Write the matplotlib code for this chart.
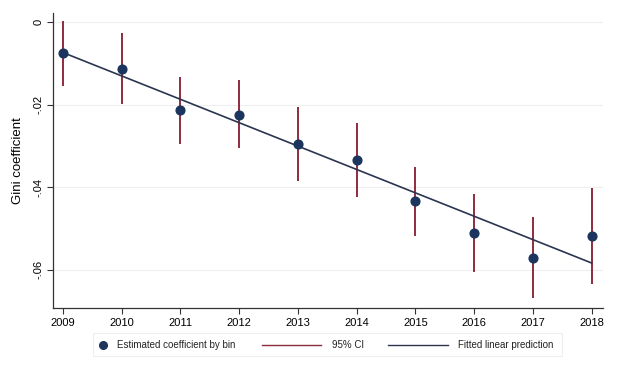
import numpy as np
import matplotlib
matplotlib.use("Agg")
import matplotlib.pyplot as plt
from matplotlib.lines import Line2D
from matplotlib.patches import Rectangle

plt.rcParams['font.family'] = ['Liberation Sans', 'DejaVu Sans']

years = [2009, 2010, 2011, 2012, 2013, 2014, 2015, 2016, 2017, 2018]
coef = [-0.0075, -0.0113, -0.0213, -0.0225, -0.0295, -0.0334, -0.0433, -0.0510, -0.0571, -0.0518]
ci_low = [-0.0155, -0.0199, -0.0296, -0.0305, -0.0385, -0.0423, -0.0518, -0.0605, -0.0667, -0.0634]
ci_high = [0.0002, -0.0026, -0.0133, -0.0140, -0.0205, -0.0244, -0.0350, -0.0416, -0.0472, -0.0402]

ci_col = '#8e2c3e'
dot_col = '#1c355e'
fit_col = '#2b3550'

W, H = 624, 370
fig = plt.figure(figsize=(W / 100, H / 100), dpi=100)
ax = fig.add_axes([0.085, 0.168, 0.881, 0.797])

x = np.array(years)
y = np.array(coef)
slope, icpt = np.polyfit(x, y, 1)

ax.vlines(x, ci_low, ci_high, color=ci_col, lw=1.4, zorder=2)
ax.plot(x, slope * x + icpt, color=fit_col, lw=1.2, zorder=3)
ax.plot(x, y, 'o', color=dot_col, ms=6.3, zorder=4)

ax.set_xlim(2008.83, 2018.19)
ax.set_ylim(-0.0692, 0.0022)
ax.set_xticks(years)
ax.set_yticks([0, -0.02, -0.04, -0.06])
ax.set_yticklabels(['0', '-.02', '-.04', '-.06'], rotation=90, va='center')
ax.tick_params(labelsize=8, length=4, width=0.8, color='#333333', pad=3)
ax.grid(axis='y', color='#eeeeee', lw=0.8)
ax.set_axisbelow(True)
for s in ['top', 'right']:
    ax.spines[s].set_visible(False)
for s in ['left', 'bottom']:
    ax.spines[s].set_color('#333333')
    ax.spines[s].set_linewidth(0.9)
ax.set_ylabel('Gini coefficient', fontsize=9.5, labelpad=7)

# legend, laid out by hand (pixel positions -> figure fractions)
def fx(px):
    return px / W

def fy(py):
    return 1 - py / H

fig.patches.append(Rectangle((fx(93), fy(356)), fx(562) - fx(93), fy(333) - fy(356),
                             transform=fig.transFigure, fill=False,
                             edgecolor='#eeeeee', lw=0.8))
ly = fy(345)
fig.lines.append(Line2D([fx(103)], [ly], marker='o', ls='', color=dot_col, ms=5.5,
                        transform=fig.transFigure))
fig.lines.append(Line2D([fx(262), fx(321)], [ly, ly], color=ci_col, lw=1,
                        transform=fig.transFigure))
fig.lines.append(Line2D([fx(388), fx(448)], [ly, ly], color=fit_col, lw=1,
                        transform=fig.transFigure))
labels = ['Estimated coefficient by bin', '95% CI', 'Fitted linear prediction']
for px, lab in zip([117, 332, 458], labels):
    fig.text(fx(px), ly, lab, fontsize=7, va='center', ha='left', color='#222222')

fig.savefig('out.png', dpi=100)
